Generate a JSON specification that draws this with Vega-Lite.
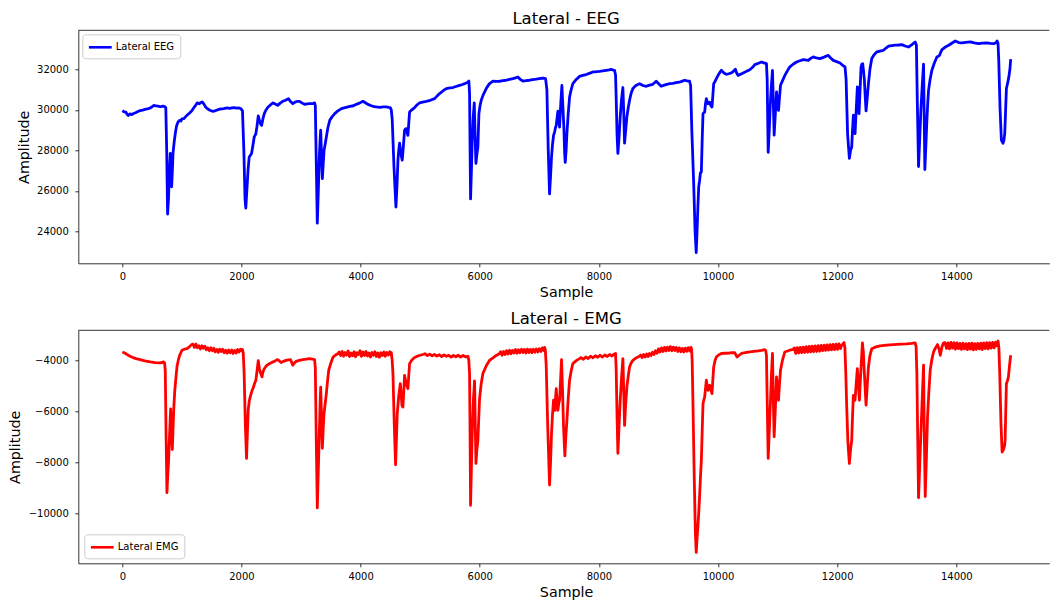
{
  "$schema": "https://vega.github.io/schema/vega-lite/v6.json",
  "background": "#ffffff",
  "padding": {"left": 8.3, "top": 10.3, "right": 0, "bottom": 0},
  "bounds": "flush",
  "spacing": 67,
  "config": {
    "font": "DejaVu Sans",
    "view": {"stroke": null},
    "axis": {
      "grid": false,
      "domainColor": "#000000",
      "domainWidth": 0.8,
      "tickColor": "#000000",
      "tickWidth": 0.8,
      "tickSize": 3.5,
      "labelFont": "DejaVu Sans",
      "labelFontSize": 10,
      "labelColor": "#000000",
      "labelOverlap": false,
      "titleFont": "DejaVu Sans",
      "titleFontSize": 14.3,
      "titleFontWeight": "normal",
      "titleColor": "#000000"
    },
    "axisX": {"labelPadding": 4.5, "labelFlush": false},
    "axisY": {"labelPadding": 6.5},
    "legend": {
      "padding": 5.5,
      "strokeColor": "#cccccc",
      "fillColor": "rgba(255,255,255,0.8)",
      "cornerRadius": 3,
      "symbolType": "M-2,0H2",
      "symbolSize": 130,
      "symbolStrokeWidth": 2.6,
      "symbolOffset": 5,
      "labelOffset": 8,
      "labelFont": "DejaVu Sans",
      "labelFontSize": 10,
      "labelColor": "#000000"
    },
    "title": {"font": "DejaVu Sans", "fontSize": 16.5, "fontWeight": "normal", "color": "#000000"}
  },
  "datasets": {
    "eeg": [
      {"sample":0,"amp":29950},{"sample":30,"amp":29900},{"sample":60,"amp":29880},{"sample":80,"amp":29780},{"sample":100,"amp":29720},{"sample":130,"amp":29800},{"sample":160,"amp":29760},{"sample":190,"amp":29820},{"sample":230,"amp":29870},{"sample":270,"amp":29930},{"sample":300,"amp":29960},{"sample":340,"amp":29980},{"sample":380,"amp":30020},{"sample":420,"amp":30040},{"sample":460,"amp":30080},{"sample":500,"amp":30150},{"sample":530,"amp":30220},{"sample":560,"amp":30190},{"sample":600,"amp":30180},{"sample":640,"amp":30150},{"sample":680,"amp":30180},{"sample":710,"amp":30160},{"sample":730,"amp":30100},
      {"sample":745,"amp":28000},{"sample":760,"amp":24850},{"sample":775,"amp":25600},{"sample":790,"amp":26900},{"sample":805,"amp":27850},{"sample":815,"amp":27500},{"sample":828,"amp":26200},{"sample":840,"amp":27000},{"sample":851,"amp":27850},{"sample":870,"amp":28400},{"sample":890,"amp":28850},{"sample":910,"amp":29200},{"sample":935,"amp":29400},{"sample":960,"amp":29480},{"sample":985,"amp":29450},{"sample":1000,"amp":29550},{"sample":1030,"amp":29560},{"sample":1060,"amp":29650},{"sample":1087,"amp":29730},{"sample":1120,"amp":29820},{"sample":1150,"amp":29900},{"sample":1172,"amp":29975},{"sample":1200,"amp":30100},{"sample":1230,"amp":30220},{"sample":1256,"amp":30340},{"sample":1290,"amp":30300},{"sample":1320,"amp":30360},{"sample":1341,"amp":30390},{"sample":1370,"amp":30280},{"sample":1397,"amp":30140},{"sample":1430,"amp":30050},{"sample":1470,"amp":29980},{"sample":1510,"amp":29930},{"sample":1538,"amp":29925},{"sample":1580,"amp":29980},{"sample":1620,"amp":30020},{"sample":1651,"amp":30040},{"sample":1700,"amp":30060},{"sample":1740,"amp":30080},{"sample":1763,"amp":30090},{"sample":1800,"amp":30070},{"sample":1840,"amp":30100},{"sample":1876,"amp":30110},{"sample":1920,"amp":30080},{"sample":1960,"amp":30090},{"sample":1989,"amp":30060},{"sample":2017,"amp":29950},
      {"sample":2040,"amp":28000},{"sample":2060,"amp":25600},{"sample":2073,"amp":25150},{"sample":2090,"amp":26000},{"sample":2110,"amp":27000},{"sample":2130,"amp":27670},{"sample":2150,"amp":27750},{"sample":2169,"amp":27840},{"sample":2190,"amp":28200},{"sample":2214,"amp":28660},{"sample":2240,"amp":28800},{"sample":2259,"amp":29150},{"sample":2282,"amp":29700},{"sample":2300,"amp":29500},{"sample":2320,"amp":29300},{"sample":2338,"amp":29230},{"sample":2360,"amp":29550},{"sample":2383,"amp":29810},{"sample":2410,"amp":29980},{"sample":2440,"amp":30110},{"sample":2480,"amp":30220},{"sample":2524,"amp":30340},{"sample":2560,"amp":30300},{"sample":2590,"amp":30250},{"sample":2608,"amp":30220},{"sample":2650,"amp":30330},{"sample":2693,"amp":30420},{"sample":2740,"amp":30470},{"sample":2789,"amp":30550},{"sample":2820,"amp":30420},{"sample":2862,"amp":30300},{"sample":2900,"amp":30380},{"sample":2940,"amp":30420},{"sample":2975,"amp":30420},{"sample":3020,"amp":30330},{"sample":3059,"amp":30270},{"sample":3100,"amp":30290},{"sample":3140,"amp":30310},{"sample":3172,"amp":30300},{"sample":3210,"amp":30320},{"sample":3228,"amp":30340},{"sample":3240,"amp":30200},
      {"sample":3255,"amp":27500},{"sample":3273,"amp":24400},{"sample":3290,"amp":26000},{"sample":3307,"amp":27670},{"sample":3320,"amp":28500},{"sample":3330,"amp":29000},{"sample":3345,"amp":27600},{"sample":3358,"amp":26600},{"sample":3372,"amp":27300},{"sample":3386,"amp":28000},{"sample":3405,"amp":28300},{"sample":3425,"amp":28660},{"sample":3450,"amp":29100},{"sample":3482,"amp":29480},{"sample":3520,"amp":29650},{"sample":3566,"amp":29810},{"sample":3620,"amp":29950},{"sample":3679,"amp":30060},{"sample":3740,"amp":30110},{"sample":3820,"amp":30170},{"sample":3880,"amp":30200},{"sample":3927,"amp":30270},{"sample":3980,"amp":30330},{"sample":4039,"amp":30420},{"sample":4080,"amp":30350},{"sample":4123,"amp":30270},{"sample":4180,"amp":30200},{"sample":4230,"amp":30160},{"sample":4263,"amp":30140},{"sample":4320,"amp":30120},{"sample":4380,"amp":30140},{"sample":4431,"amp":30140},{"sample":4470,"amp":30120},{"sample":4498,"amp":30110},{"sample":4515,"amp":30000},
      {"sample":4531,"amp":29500},{"sample":4560,"amp":27200},{"sample":4593,"amp":25200},{"sample":4610,"amp":26200},{"sample":4627,"amp":27510},{"sample":4640,"amp":28000},{"sample":4655,"amp":28350},{"sample":4670,"amp":28000},{"sample":4685,"amp":27700},{"sample":4699,"amp":27510},{"sample":4718,"amp":28200},{"sample":4738,"amp":28990},{"sample":4752,"amp":29050},{"sample":4766,"amp":29070},{"sample":4780,"amp":28900},{"sample":4794,"amp":28740},{"sample":4808,"amp":29300},{"sample":4822,"amp":29890},{"sample":4860,"amp":30000},{"sample":4906,"amp":30110},{"sample":4950,"amp":30250},{"sample":4990,"amp":30340},{"sample":5040,"amp":30380},{"sample":5102,"amp":30420},{"sample":5170,"amp":30470},{"sample":5242,"amp":30550},{"sample":5290,"amp":30700},{"sample":5326,"amp":30800},{"sample":5380,"amp":30930},{"sample":5438,"amp":31050},{"sample":5500,"amp":31080},{"sample":5550,"amp":31100},{"sample":5600,"amp":31150},{"sample":5661,"amp":31210},{"sample":5710,"amp":31250},{"sample":5745,"amp":31290},{"sample":5790,"amp":31350},{"sample":5818,"amp":31420},
      {"sample":5829,"amp":30800},{"sample":5838,"amp":28000},{"sample":5846,"amp":25600},{"sample":5860,"amp":27000},{"sample":5874,"amp":28490},{"sample":5890,"amp":29600},{"sample":5908,"amp":30340},{"sample":5922,"amp":28800},{"sample":5936,"amp":27350},{"sample":5952,"amp":27800},{"sample":5969,"amp":28160},{"sample":5986,"amp":29810},{"sample":6005,"amp":30200},{"sample":6025,"amp":30470},{"sample":6060,"amp":30750},{"sample":6109,"amp":31050},{"sample":6160,"amp":31280},{"sample":6221,"amp":31420},{"sample":6280,"amp":31400},{"sample":6333,"amp":31410},{"sample":6390,"amp":31440},{"sample":6445,"amp":31460},{"sample":6500,"amp":31500},{"sample":6556,"amp":31540},{"sample":6600,"amp":31580},{"sample":6640,"amp":31620},{"sample":6680,"amp":31500},{"sample":6724,"amp":31420},{"sample":6780,"amp":31440},{"sample":6836,"amp":31460},{"sample":6890,"amp":31490},{"sample":6948,"amp":31510},{"sample":7000,"amp":31540},{"sample":7060,"amp":31570},{"sample":7105,"amp":31540},
      {"sample":7127,"amp":31000},{"sample":7150,"amp":28000},{"sample":7172,"amp":25850},{"sample":7190,"amp":26800},{"sample":7205,"amp":27670},{"sample":7222,"amp":28300},{"sample":7239,"amp":28740},{"sample":7256,"amp":28900},{"sample":7270,"amp":29100},{"sample":7284,"amp":29230},{"sample":7298,"amp":29600},{"sample":7312,"amp":29930},{"sample":7326,"amp":29500},{"sample":7340,"amp":29150},{"sample":7360,"amp":30300},{"sample":7379,"amp":31200},{"sample":7395,"amp":30200},{"sample":7412,"amp":29150},{"sample":7425,"amp":27900},{"sample":7435,"amp":27400},{"sample":7450,"amp":28000},{"sample":7463,"amp":28820},{"sample":7485,"amp":29800},{"sample":7508,"amp":30630},{"sample":7535,"amp":31000},{"sample":7563,"amp":31290},{"sample":7620,"amp":31500},{"sample":7675,"amp":31650},{"sample":7730,"amp":31700},{"sample":7787,"amp":31740},{"sample":7840,"amp":31800},{"sample":7899,"amp":31870},{"sample":7950,"amp":31880},{"sample":8011,"amp":31900},{"sample":8060,"amp":31920},{"sample":8123,"amp":31950},{"sample":8170,"amp":31970},{"sample":8207,"amp":32000},{"sample":8240,"amp":31960},{"sample":8263,"amp":31950},
      {"sample":8280,"amp":31700},{"sample":8291,"amp":30500},{"sample":8305,"amp":28800},{"sample":8319,"amp":27850},{"sample":8340,"amp":28700},{"sample":8358,"amp":29650},{"sample":8380,"amp":30500},{"sample":8403,"amp":31100},{"sample":8418,"amp":29800},{"sample":8431,"amp":28350},{"sample":8450,"amp":29000},{"sample":8470,"amp":29650},{"sample":8493,"amp":30100},{"sample":8515,"amp":30470},{"sample":8540,"amp":30800},{"sample":8571,"amp":31050},{"sample":8620,"amp":31200},{"sample":8683,"amp":31290},{"sample":8740,"amp":31200},{"sample":8795,"amp":31160},{"sample":8850,"amp":31220},{"sample":8906,"amp":31260},{"sample":8962,"amp":31410},{"sample":9000,"amp":31300},{"sample":9046,"amp":31160},{"sample":9110,"amp":31230},{"sample":9186,"amp":31290},{"sample":9240,"amp":31300},{"sample":9298,"amp":31340},{"sample":9370,"amp":31380},{"sample":9438,"amp":31460},{"sample":9480,"amp":31430},{"sample":9522,"amp":31410},
      {"sample":9540,"amp":31200},{"sample":9560,"amp":29000},{"sample":9590,"amp":26500},{"sample":9615,"amp":24000},{"sample":9634,"amp":22950},{"sample":9648,"amp":24000},{"sample":9662,"amp":25200},{"sample":9676,"amp":26200},{"sample":9691,"amp":26520},{"sample":9705,"amp":26900},{"sample":9720,"amp":26930},{"sample":9734,"amp":28500},{"sample":9748,"amp":29810},{"sample":9762,"amp":29850},{"sample":9776,"amp":29890},{"sample":9790,"amp":30300},{"sample":9804,"amp":30550},{"sample":9818,"amp":30400},{"sample":9832,"amp":30300},{"sample":9846,"amp":30350},{"sample":9860,"amp":30380},{"sample":9880,"amp":30200},{"sample":9899,"amp":30140},{"sample":9913,"amp":30700},{"sample":9927,"amp":31290},{"sample":9950,"amp":31400},{"sample":9972,"amp":31540},{"sample":10010,"amp":31750},{"sample":10056,"amp":31950},{"sample":10100,"amp":31820},{"sample":10140,"amp":31750},{"sample":10180,"amp":31780},{"sample":10224,"amp":31820},{"sample":10260,"amp":31900},{"sample":10292,"amp":32000},{"sample":10315,"amp":31800},{"sample":10337,"amp":31700},{"sample":10380,"amp":31760},{"sample":10421,"amp":31820},{"sample":10480,"amp":31900},{"sample":10533,"amp":31980},{"sample":10580,"amp":32100},{"sample":10617,"amp":32230},{"sample":10680,"amp":32300},{"sample":10729,"amp":32360},{"sample":10770,"amp":32320},{"sample":10813,"amp":32280},
      {"sample":10825,"amp":31500},{"sample":10842,"amp":27900},{"sample":10860,"amp":29000},{"sample":10881,"amp":30470},{"sample":10898,"amp":31300},{"sample":10914,"amp":31950},{"sample":10928,"amp":30400},{"sample":10942,"amp":28750},{"sample":10962,"amp":29800},{"sample":10982,"amp":30880},{"sample":10998,"amp":30400},{"sample":11015,"amp":29970},{"sample":11032,"amp":30600},{"sample":11049,"amp":31210},{"sample":11085,"amp":31450},{"sample":11122,"amp":31700},{"sample":11165,"amp":31930},{"sample":11206,"amp":32120},{"sample":11260,"amp":32250},{"sample":11318,"amp":32360},{"sample":11375,"amp":32420},{"sample":11431,"amp":32480},{"sample":11470,"amp":32460},{"sample":11515,"amp":32440},{"sample":11555,"amp":32540},{"sample":11599,"amp":32610},{"sample":11650,"amp":32560},{"sample":11711,"amp":32530},{"sample":11780,"amp":32600},{"sample":11851,"amp":32690},{"sample":11890,"amp":32560},{"sample":11935,"amp":32440},{"sample":11990,"amp":32380},{"sample":12048,"amp":32310},{"sample":12090,"amp":32200},{"sample":12132,"amp":32120},
      {"sample":12150,"amp":31500},{"sample":12175,"amp":28800},{"sample":12205,"amp":27600},{"sample":12225,"amp":28000},{"sample":12244,"amp":28160},{"sample":12258,"amp":29000},{"sample":12272,"amp":29730},{"sample":12286,"amp":29200},{"sample":12300,"amp":28820},{"sample":12320,"amp":30000},{"sample":12339,"amp":31130},{"sample":12353,"amp":30400},{"sample":12367,"amp":29810},{"sample":12385,"amp":31000},{"sample":12401,"amp":32120},{"sample":12415,"amp":32250},{"sample":12429,"amp":32280},{"sample":12443,"amp":31900},{"sample":12457,"amp":31460},{"sample":12472,"amp":30600},{"sample":12485,"amp":29950},{"sample":12505,"amp":30600},{"sample":12525,"amp":31290},{"sample":12550,"amp":32000},{"sample":12581,"amp":32530},{"sample":12620,"amp":32720},{"sample":12665,"amp":32860},{"sample":12720,"amp":32900},{"sample":12777,"amp":32940},{"sample":12820,"amp":33050},{"sample":12861,"amp":33140},{"sample":12920,"amp":33170},{"sample":12973,"amp":33190},{"sample":13030,"amp":33200},{"sample":13086,"amp":33220},{"sample":13140,"amp":33150},{"sample":13198,"amp":33100},{"sample":13260,"amp":33230},{"sample":13310,"amp":33350},
      {"sample":13330,"amp":33200},{"sample":13345,"amp":30500},{"sample":13366,"amp":27200},{"sample":13385,"amp":28500},{"sample":13405,"amp":29970},{"sample":13428,"amp":31200},{"sample":13450,"amp":32250},{"sample":13462,"amp":29500},{"sample":13472,"amp":27050},{"sample":13490,"amp":28300},{"sample":13506,"amp":29480},{"sample":13520,"amp":30300},{"sample":13534,"amp":30960},{"sample":13560,"amp":31500},{"sample":13590,"amp":31950},{"sample":13630,"amp":32300},{"sample":13674,"amp":32610},{"sample":13700,"amp":32650},{"sample":13719,"amp":32690},{"sample":13740,"amp":32850},{"sample":13759,"amp":32970},{"sample":13815,"amp":33100},{"sample":13871,"amp":33190},{"sample":13930,"amp":33300},{"sample":13983,"amp":33400},{"sample":14040,"amp":33320},{"sample":14095,"amp":33300},{"sample":14160,"amp":33330},{"sample":14236,"amp":33350},{"sample":14300,"amp":33300},{"sample":14376,"amp":33270},{"sample":14440,"amp":33290},{"sample":14516,"amp":33300},{"sample":14570,"amp":33280},{"sample":14628,"amp":33270},{"sample":14660,"amp":33300},{"sample":14684,"amp":33400},{"sample":14700,"amp":33300},
      {"sample":14712,"amp":32500},{"sample":14735,"amp":30000},{"sample":14757,"amp":28490},{"sample":14785,"amp":28350},{"sample":14800,"amp":28500},{"sample":14813,"amp":28820},{"sample":14828,"amp":30000},{"sample":14841,"amp":31050},{"sample":14860,"amp":31300},{"sample":14880,"amp":31590},{"sample":14900,"amp":32000},{"sample":14913,"amp":32500}
    ],
    "emg": [
      {"sample":0,"amp":-3660},{"sample":40,"amp":-3700},{"sample":80,"amp":-3760},{"sample":130,"amp":-3830},{"sample":180,"amp":-3880},{"sample":230,"amp":-3920},{"sample":300,"amp":-3960},{"sample":380,"amp":-4010},{"sample":468,"amp":-4050},{"sample":550,"amp":-4080},{"sample":637,"amp":-4090},{"sample":693,"amp":-4050},{"sample":710,"amp":-4100},
      {"sample":721,"amp":-4400},{"sample":735,"amp":-7000},{"sample":749,"amp":-9200},{"sample":763,"amp":-8500},{"sample":777,"amp":-7930},{"sample":795,"amp":-6800},{"sample":811,"amp":-5900},{"sample":825,"amp":-6800},{"sample":839,"amp":-7500},{"sample":850,"amp":-6800},{"sample":862,"amp":-5960},{"sample":880,"amp":-5200},{"sample":901,"amp":-4640},{"sample":920,"amp":-4200},{"sample":946,"amp":-3920},{"sample":970,"amp":-3750},{"sample":1003,"amp":-3590},{"sample":1040,"amp":-3550},{"sample":1087,"amp":-3530},{"sample":1130,"amp":-3450},{"sample":1160,"amp":-3380},
      {"sample":1185,"amp":-3350},{"sample":1210,"amp":-3480},{"sample":1235,"amp":-3350},{"sample":1260,"amp":-3495},{"sample":1285,"amp":-3415},{"sample":1310,"amp":-3545},{"sample":1335,"amp":-3415},{"sample":1360,"amp":-3515},{"sample":1385,"amp":-3430},{"sample":1410,"amp":-3570},{"sample":1435,"amp":-3495},{"sample":1460,"amp":-3610},{"sample":1485,"amp":-3495},{"sample":1510,"amp":-3610},{"sample":1535,"amp":-3515},{"sample":1560,"amp":-3655},{"sample":1585,"amp":-3560},{"sample":1610,"amp":-3675},{"sample":1635,"amp":-3550},{"sample":1660,"amp":-3645},{"sample":1685,"amp":-3550},{"sample":1710,"amp":-3690},{"sample":1735,"amp":-3595},{"sample":1760,"amp":-3710},{"sample":1785,"amp":-3585},{"sample":1810,"amp":-3690},{"sample":1835,"amp":-3585},{"sample":1860,"amp":-3720},{"sample":1885,"amp":-3600},{"sample":1910,"amp":-3700},{"sample":1935,"amp":-3560},{"sample":1960,"amp":-3660},{"sample":1985,"amp":-3550},{"sample":2005,"amp":-3620},{"sample":2017,"amp":-3560},
      {"sample":2030,"amp":-3700},{"sample":2045,"amp":-4500},{"sample":2065,"amp":-6500},{"sample":2085,"amp":-7850},{"sample":2100,"amp":-6800},{"sample":2113,"amp":-5960},{"sample":2130,"amp":-5600},{"sample":2147,"amp":-5430},{"sample":2175,"amp":-5200},{"sample":2203,"amp":-5040},{"sample":2220,"amp":-4900},{"sample":2242,"amp":-4770},{"sample":2262,"amp":-4400},{"sample":2282,"amp":-4000},{"sample":2300,"amp":-4300},{"sample":2316,"amp":-4450},{"sample":2330,"amp":-4550},{"sample":2344,"amp":-4640},{"sample":2360,"amp":-4450},{"sample":2383,"amp":-4320},{"sample":2420,"amp":-4200},{"sample":2468,"amp":-4120},{"sample":2510,"amp":-4070},{"sample":2552,"amp":-4030},{"sample":2580,"amp":-3990},{"sample":2608,"amp":-3960},{"sample":2640,"amp":-4020},{"sample":2665,"amp":-4080},{"sample":2700,"amp":-4030},{"sample":2749,"amp":-3990},{"sample":2790,"amp":-3970},{"sample":2823,"amp":-3960},{"sample":2845,"amp":-4080},{"sample":2862,"amp":-4180},{"sample":2885,"amp":-4100},{"sample":2918,"amp":-4030},{"sample":2970,"amp":-3990},{"sample":3031,"amp":-3960},{"sample":3090,"amp":-3940},{"sample":3144,"amp":-3920},{"sample":3190,"amp":-3940},{"sample":3228,"amp":-3960},
      {"sample":3240,"amp":-4300},{"sample":3255,"amp":-7000},{"sample":3273,"amp":-9800},{"sample":3290,"amp":-8300},{"sample":3307,"amp":-6880},{"sample":3320,"amp":-5700},{"sample":3330,"amp":-5050},{"sample":3345,"amp":-6300},{"sample":3358,"amp":-7450},{"sample":3372,"amp":-6700},{"sample":3386,"amp":-6090},{"sample":3405,"amp":-5700},{"sample":3425,"amp":-5300},{"sample":3445,"amp":-4800},{"sample":3465,"amp":-4380},{"sample":3500,"amp":-4100},{"sample":3538,"amp":-3860},{"sample":3580,"amp":-3780},{"sample":3623,"amp":-3720},
      {"sample":3640,"amp":-3660},{"sample":3665,"amp":-3800},{"sample":3690,"amp":-3640},{"sample":3715,"amp":-3830},{"sample":3740,"amp":-3680},{"sample":3765,"amp":-3780},{"sample":3790,"amp":-3620},{"sample":3815,"amp":-3840},{"sample":3840,"amp":-3700},{"sample":3865,"amp":-3810},{"sample":3890,"amp":-3650},{"sample":3915,"amp":-3850},{"sample":3940,"amp":-3690},{"sample":3965,"amp":-3760},{"sample":3990,"amp":-3610},{"sample":4015,"amp":-3830},{"sample":4040,"amp":-3660},{"sample":4065,"amp":-3800},{"sample":4090,"amp":-3640},{"sample":4115,"amp":-3820},{"sample":4140,"amp":-3700},{"sample":4165,"amp":-3860},{"sample":4190,"amp":-3680},{"sample":4215,"amp":-3790},{"sample":4240,"amp":-3650},{"sample":4265,"amp":-3840},{"sample":4290,"amp":-3700},{"sample":4315,"amp":-3870},{"sample":4340,"amp":-3690},{"sample":4365,"amp":-3800},{"sample":4390,"amp":-3660},{"sample":4415,"amp":-3830},{"sample":4440,"amp":-3680},{"sample":4465,"amp":-3780},{"sample":4490,"amp":-3650},{"sample":4505,"amp":-3760},{"sample":4515,"amp":-3680},
      {"sample":4530,"amp":-4000},{"sample":4543,"amp":-4500},{"sample":4565,"amp":-6500},{"sample":4587,"amp":-8100},{"sample":4600,"amp":-7200},{"sample":4615,"amp":-6090},{"sample":4640,"amp":-5400},{"sample":4666,"amp":-4910},{"sample":4680,"amp":-5300},{"sample":4694,"amp":-5760},{"sample":4710,"amp":-5830},{"sample":4725,"amp":-5200},{"sample":4738,"amp":-4580},{"sample":4752,"amp":-4750},{"sample":4766,"amp":-4910},{"sample":4780,"amp":-5000},{"sample":4794,"amp":-5100},{"sample":4808,"amp":-4600},{"sample":4822,"amp":-4120},{"sample":4860,"amp":-3980},{"sample":4906,"amp":-3880},{"sample":4970,"amp":-3810},{"sample":5046,"amp":-3760},
      {"sample":5080,"amp":-3730},{"sample":5120,"amp":-3800},{"sample":5160,"amp":-3750},{"sample":5200,"amp":-3810},{"sample":5240,"amp":-3760},{"sample":5280,"amp":-3820},{"sample":5320,"amp":-3770},{"sample":5360,"amp":-3840},{"sample":5400,"amp":-3780},{"sample":5440,"amp":-3830},{"sample":5480,"amp":-3790},{"sample":5520,"amp":-3860},{"sample":5560,"amp":-3800},{"sample":5600,"amp":-3850},{"sample":5640,"amp":-3790},{"sample":5680,"amp":-3860},{"sample":5720,"amp":-3800},{"sample":5760,"amp":-3850},{"sample":5801,"amp":-3830},
      {"sample":5815,"amp":-3950},{"sample":5829,"amp":-4500},{"sample":5838,"amp":-7000},{"sample":5846,"amp":-9700},{"sample":5860,"amp":-8200},{"sample":5874,"amp":-6880},{"sample":5895,"amp":-5500},{"sample":5913,"amp":-4800},{"sample":5925,"amp":-6500},{"sample":5936,"amp":-8050},{"sample":5952,"amp":-7500},{"sample":5969,"amp":-7140},{"sample":5983,"amp":-6300},{"sample":5997,"amp":-5500},{"sample":6025,"amp":-4900},{"sample":6053,"amp":-4510},{"sample":6110,"amp":-4200},{"sample":6165,"amp":-3990},{"sample":6250,"amp":-3840},{"sample":6333,"amp":-3720},
      {"sample":6350,"amp":-3650},{"sample":6375,"amp":-3790},{"sample":6400,"amp":-3640},{"sample":6425,"amp":-3760},{"sample":6450,"amp":-3610},{"sample":6475,"amp":-3740},{"sample":6500,"amp":-3590},{"sample":6525,"amp":-3730},{"sample":6550,"amp":-3600},{"sample":6575,"amp":-3700},{"sample":6600,"amp":-3560},{"sample":6625,"amp":-3710},{"sample":6650,"amp":-3570},{"sample":6675,"amp":-3690},{"sample":6700,"amp":-3550},{"sample":6725,"amp":-3680},{"sample":6750,"amp":-3560},{"sample":6775,"amp":-3700},{"sample":6800,"amp":-3550},{"sample":6825,"amp":-3680},{"sample":6850,"amp":-3560},{"sample":6875,"amp":-3690},{"sample":6900,"amp":-3550},{"sample":6925,"amp":-3670},{"sample":6950,"amp":-3540},{"sample":6975,"amp":-3660},{"sample":7000,"amp":-3530},{"sample":7025,"amp":-3640},{"sample":7050,"amp":-3500},{"sample":7075,"amp":-3600},{"sample":7088,"amp":-3480},{"sample":7100,"amp":-3560},
      {"sample":7116,"amp":-4200},{"sample":7140,"amp":-6500},{"sample":7172,"amp":-8900},{"sample":7190,"amp":-7900},{"sample":7205,"amp":-6880},{"sample":7222,"amp":-6100},{"sample":7239,"amp":-5560},{"sample":7250,"amp":-5800},{"sample":7261,"amp":-5960},{"sample":7272,"amp":-5500},{"sample":7284,"amp":-5100},{"sample":7298,"amp":-5600},{"sample":7312,"amp":-5960},{"sample":7326,"amp":-5700},{"sample":7340,"amp":-5560},{"sample":7356,"amp":-4800},{"sample":7373,"amp":-3960},{"sample":7390,"amp":-5200},{"sample":7407,"amp":-6610},{"sample":7429,"amp":-7750},{"sample":7445,"amp":-7000},{"sample":7463,"amp":-6350},{"sample":7485,"amp":-5500},{"sample":7508,"amp":-4770},{"sample":7535,"amp":-4400},{"sample":7563,"amp":-4120},{"sample":7620,"amp":-4000},{"sample":7675,"amp":-3920},
      {"sample":7700,"amp":-3880},{"sample":7740,"amp":-3950},{"sample":7780,"amp":-3860},{"sample":7820,"amp":-3920},{"sample":7860,"amp":-3830},{"sample":7900,"amp":-3890},{"sample":7940,"amp":-3810},{"sample":7980,"amp":-3870},{"sample":8020,"amp":-3790},{"sample":8060,"amp":-3860},{"sample":8100,"amp":-3780},{"sample":8140,"amp":-3840},{"sample":8180,"amp":-3760},{"sample":8220,"amp":-3820},{"sample":8255,"amp":-3740},{"sample":8280,"amp":-3720},
      {"sample":8291,"amp":-4400},{"sample":8305,"amp":-6200},{"sample":8319,"amp":-7650},{"sample":8340,"amp":-6500},{"sample":8358,"amp":-5560},{"sample":8380,"amp":-4700},{"sample":8403,"amp":-3920},{"sample":8418,"amp":-5300},{"sample":8431,"amp":-6550},{"sample":8450,"amp":-5700},{"sample":8470,"amp":-5040},{"sample":8493,"amp":-4600},{"sample":8515,"amp":-4250},{"sample":8540,"amp":-4100},{"sample":8571,"amp":-3990},{"sample":8620,"amp":-3900},{"sample":8683,"amp":-3830},
      {"sample":8700,"amp":-3780},{"sample":8725,"amp":-3880},{"sample":8750,"amp":-3760},{"sample":8775,"amp":-3860},{"sample":8800,"amp":-3740},{"sample":8825,"amp":-3840},{"sample":8850,"amp":-3720},{"sample":8875,"amp":-3800},{"sample":8900,"amp":-3670},{"sample":8925,"amp":-3760},{"sample":8950,"amp":-3610},{"sample":8975,"amp":-3710},{"sample":9000,"amp":-3540},{"sample":9025,"amp":-3660},{"sample":9050,"amp":-3500},{"sample":9075,"amp":-3640},{"sample":9100,"amp":-3480},{"sample":9125,"amp":-3620},{"sample":9150,"amp":-3470},{"sample":9175,"amp":-3600},{"sample":9200,"amp":-3450},{"sample":9225,"amp":-3610},{"sample":9250,"amp":-3470},{"sample":9275,"amp":-3600},{"sample":9300,"amp":-3480},{"sample":9325,"amp":-3640},{"sample":9350,"amp":-3500},{"sample":9375,"amp":-3650},{"sample":9400,"amp":-3520},{"sample":9425,"amp":-3660},{"sample":9450,"amp":-3510},{"sample":9475,"amp":-3630},{"sample":9500,"amp":-3490},{"sample":9525,"amp":-3620},{"sample":9545,"amp":-3480},{"sample":9555,"amp":-3530},
      {"sample":9566,"amp":-4000},{"sample":9578,"amp":-5500},{"sample":9600,"amp":-8500},{"sample":9620,"amp":-10800},{"sample":9634,"amp":-11550},{"sample":9648,"amp":-11000},{"sample":9662,"amp":-10550},{"sample":9676,"amp":-10000},{"sample":9690,"amp":-9370},{"sample":9705,"amp":-8600},{"sample":9720,"amp":-7930},{"sample":9734,"amp":-6800},{"sample":9748,"amp":-5690},{"sample":9762,"amp":-5550},{"sample":9776,"amp":-5430},{"sample":9790,"amp":-5100},{"sample":9804,"amp":-4770},{"sample":9818,"amp":-5000},{"sample":9832,"amp":-5170},{"sample":9846,"amp":-5050},{"sample":9860,"amp":-4970},{"sample":9880,"amp":-5150},{"sample":9899,"amp":-5300},{"sample":9913,"amp":-4750},{"sample":9927,"amp":-4250},{"sample":9950,"amp":-4000},{"sample":9972,"amp":-3860},{"sample":10010,"amp":-3780},{"sample":10056,"amp":-3720},{"sample":10120,"amp":-3710},{"sample":10196,"amp":-3700},{"sample":10240,"amp":-3690},{"sample":10280,"amp":-3690},{"sample":10300,"amp":-3780},{"sample":10320,"amp":-3860},{"sample":10350,"amp":-3800},{"sample":10393,"amp":-3720},{"sample":10460,"amp":-3690},{"sample":10533,"amp":-3660},{"sample":10600,"amp":-3640},{"sample":10673,"amp":-3620},{"sample":10730,"amp":-3600},{"sample":10785,"amp":-3570},{"sample":10800,"amp":-3600},
      {"sample":10813,"amp":-3800},{"sample":10825,"amp":-5500},{"sample":10842,"amp":-7850},{"sample":10860,"amp":-6800},{"sample":10881,"amp":-5560},{"sample":10898,"amp":-4500},{"sample":10914,"amp":-3720},{"sample":10928,"amp":-5500},{"sample":10942,"amp":-7000},{"sample":10962,"amp":-5900},{"sample":10982,"amp":-4640},{"sample":10998,"amp":-5100},{"sample":11015,"amp":-5560},{"sample":11032,"amp":-4900},{"sample":11049,"amp":-4380},{"sample":11085,"amp":-3950},{"sample":11122,"amp":-3660},{"sample":11190,"amp":-3600},{"sample":11262,"amp":-3560},
      {"sample":11280,"amp":-3500},{"sample":11305,"amp":-3720},{"sample":11330,"amp":-3490},{"sample":11355,"amp":-3700},{"sample":11380,"amp":-3480},{"sample":11405,"amp":-3690},{"sample":11430,"amp":-3470},{"sample":11455,"amp":-3680},{"sample":11480,"amp":-3450},{"sample":11505,"amp":-3670},{"sample":11530,"amp":-3440},{"sample":11555,"amp":-3660},{"sample":11580,"amp":-3430},{"sample":11605,"amp":-3650},{"sample":11630,"amp":-3420},{"sample":11655,"amp":-3640},{"sample":11680,"amp":-3410},{"sample":11705,"amp":-3630},{"sample":11730,"amp":-3400},{"sample":11755,"amp":-3610},{"sample":11780,"amp":-3390},{"sample":11805,"amp":-3600},{"sample":11830,"amp":-3380},{"sample":11855,"amp":-3590},{"sample":11880,"amp":-3370},{"sample":11905,"amp":-3580},{"sample":11930,"amp":-3360},{"sample":11955,"amp":-3570},{"sample":11980,"amp":-3350},{"sample":12005,"amp":-3560},{"sample":12030,"amp":-3340},{"sample":12055,"amp":-3530},{"sample":12076,"amp":-3400},{"sample":12100,"amp":-3330},{"sample":12115,"amp":-3290},
      {"sample":12130,"amp":-3500},{"sample":12145,"amp":-4500},{"sample":12160,"amp":-5800},{"sample":12180,"amp":-7200},{"sample":12205,"amp":-8050},{"sample":12225,"amp":-7500},{"sample":12244,"amp":-7140},{"sample":12258,"amp":-6200},{"sample":12272,"amp":-5370},{"sample":12286,"amp":-5450},{"sample":12300,"amp":-5560},{"sample":12320,"amp":-4900},{"sample":12339,"amp":-4320},{"sample":12356,"amp":-4900},{"sample":12373,"amp":-5560},{"sample":12400,"amp":-4300},{"sample":12424,"amp":-3300},{"sample":12440,"amp":-3700},{"sample":12457,"amp":-4510},{"sample":12472,"amp":-5200},{"sample":12485,"amp":-5750},{"sample":12505,"amp":-5000},{"sample":12525,"amp":-4250},{"sample":12550,"amp":-3800},{"sample":12581,"amp":-3530},{"sample":12650,"amp":-3460},{"sample":12721,"amp":-3420},{"sample":12830,"amp":-3390},{"sample":12945,"amp":-3370},{"sample":13060,"amp":-3350},{"sample":13170,"amp":-3340},{"sample":13250,"amp":-3320},{"sample":13310,"amp":-3300},
      {"sample":13325,"amp":-3450},{"sample":13338,"amp":-4500},{"sample":13352,"amp":-7000},{"sample":13366,"amp":-9400},{"sample":13385,"amp":-8200},{"sample":13405,"amp":-6880},{"sample":13428,"amp":-5500},{"sample":13450,"amp":-4180},{"sample":13462,"amp":-6800},{"sample":13478,"amp":-9350},{"sample":13497,"amp":-7900},{"sample":13517,"amp":-6220},{"sample":13540,"amp":-5200},{"sample":13562,"amp":-4380},{"sample":13590,"amp":-3950},{"sample":13618,"amp":-3660},{"sample":13650,"amp":-3500},{"sample":13686,"amp":-3370},{"sample":13710,"amp":-3550},{"sample":13731,"amp":-3790},{"sample":13760,"amp":-3450},{"sample":13787,"amp":-3300},
      {"sample":13810,"amp":-3290},{"sample":13835,"amp":-3520},{"sample":13860,"amp":-3300},{"sample":13885,"amp":-3540},{"sample":13910,"amp":-3280},{"sample":13935,"amp":-3510},{"sample":13960,"amp":-3290},{"sample":13985,"amp":-3550},{"sample":14010,"amp":-3300},{"sample":14035,"amp":-3530},{"sample":14060,"amp":-3320},{"sample":14085,"amp":-3560},{"sample":14110,"amp":-3310},{"sample":14135,"amp":-3540},{"sample":14160,"amp":-3330},{"sample":14185,"amp":-3570},{"sample":14210,"amp":-3320},{"sample":14235,"amp":-3550},{"sample":14260,"amp":-3310},{"sample":14285,"amp":-3580},{"sample":14310,"amp":-3330},{"sample":14335,"amp":-3560},{"sample":14360,"amp":-3320},{"sample":14385,"amp":-3540},{"sample":14410,"amp":-3310},{"sample":14435,"amp":-3570},{"sample":14460,"amp":-3300},{"sample":14485,"amp":-3530},{"sample":14510,"amp":-3290},{"sample":14535,"amp":-3540},{"sample":14560,"amp":-3290},{"sample":14585,"amp":-3510},{"sample":14610,"amp":-3280},{"sample":14635,"amp":-3500},{"sample":14660,"amp":-3270},{"sample":14685,"amp":-3420},{"sample":14701,"amp":-3230},
      {"sample":14715,"amp":-3500},{"sample":14729,"amp":-4500},{"sample":14750,"amp":-6500},{"sample":14769,"amp":-7600},{"sample":14783,"amp":-7550},{"sample":14797,"amp":-7470},{"sample":14810,"amp":-7350},{"sample":14819,"amp":-7140},{"sample":14830,"amp":-6000},{"sample":14841,"amp":-4910},{"sample":14858,"amp":-4800},{"sample":14875,"amp":-4640},{"sample":14893,"amp":-4200},{"sample":14913,"amp":-3790}
    ]
  },
  "vconcat": [
    {
      "width": 971,
      "height": 233,
      "title": {"text": "Lateral - EEG", "frame": "group", "anchor": "middle", "baseline": "alphabetic", "offset": -10.6, "dx": 2.3},
      "layer": [
        {
          "data": {"name": "eeg"},
          "mark": {"type": "line", "strokeWidth": 2.8, "strokeJoin": "round"},
          "encoding": {
            "x": {"field": "sample", "type": "quantitative", "scale": {"domain": [-739, 15561], "nice": false, "zero": false}, "axis": {"title": "Sample", "values": [0, 2000, 4000, 6000, 8000, 10000, 12000, 14000], "format": "d", "titleX": 487.8, "titleY": 33.3, "titleBaseline": "alphabetic"}},
            "y": {"field": "amp", "type": "quantitative", "scale": {"domain": [22420, 33926], "nice": false, "zero": false}, "axis": {"title": "Amplitude", "values": [24000, 26000, 28000, 30000, 32000], "format": "d", "titleX": -50, "titleBaseline": "alphabetic"}},
            "color": {"datum": "Lateral EEG", "type": "nominal", "scale": {"range": ["#0000ff"]}, "legend": {"orient": "top-left", "offset": 3.5, "title": null}}
          }
        },
        {
          "data": {"values": [{}]},
          "mark": {"type": "rule", "color": "#000000", "strokeWidth": 0.8},
          "encoding": {"y": {"datum": 33926, "type": "quantitative", "title": "Amplitude"}}
        }
      ]
    },
    {
      "width": 971,
      "height": 233,
      "title": {"text": "Lateral - EMG", "frame": "group", "anchor": "middle", "baseline": "alphabetic", "offset": -10.6, "dx": 2.3},
      "layer": [
        {
          "data": {"name": "emg"},
          "mark": {"type": "line", "strokeWidth": 2.8, "strokeJoin": "round"},
          "encoding": {
            "x": {"field": "sample", "type": "quantitative", "scale": {"domain": [-739, 15561], "nice": false, "zero": false}, "axis": {"title": "Sample", "values": [0, 2000, 4000, 6000, 8000, 10000, 12000, 14000], "format": "d", "titleX": 487.8, "titleY": 33.3, "titleBaseline": "alphabetic"}},
            "y": {"field": "amp", "type": "quantitative", "scale": {"domain": [-11980, -2807], "nice": false, "zero": false}, "axis": {"title": "Amplitude", "values": [-10000, -8000, -6000, -4000], "format": "d", "titleX": -58.5, "titleBaseline": "alphabetic"}},
            "color": {"datum": "Lateral EMG", "type": "nominal", "scale": {"range": ["#ff0000"]}, "legend": {"orient": "bottom-left", "offset": 5.5, "title": null}}
          }
        },
        {
          "data": {"values": [{}]},
          "mark": {"type": "rule", "color": "#000000", "strokeWidth": 0.8},
          "encoding": {"y": {"datum": -2807, "type": "quantitative", "title": "Amplitude"}}
        }
      ]
    }
  ],
  "resolve": {"scale": {"x": "independent", "y": "independent", "color": "independent"}, "legend": {"color": "independent"}}
}
